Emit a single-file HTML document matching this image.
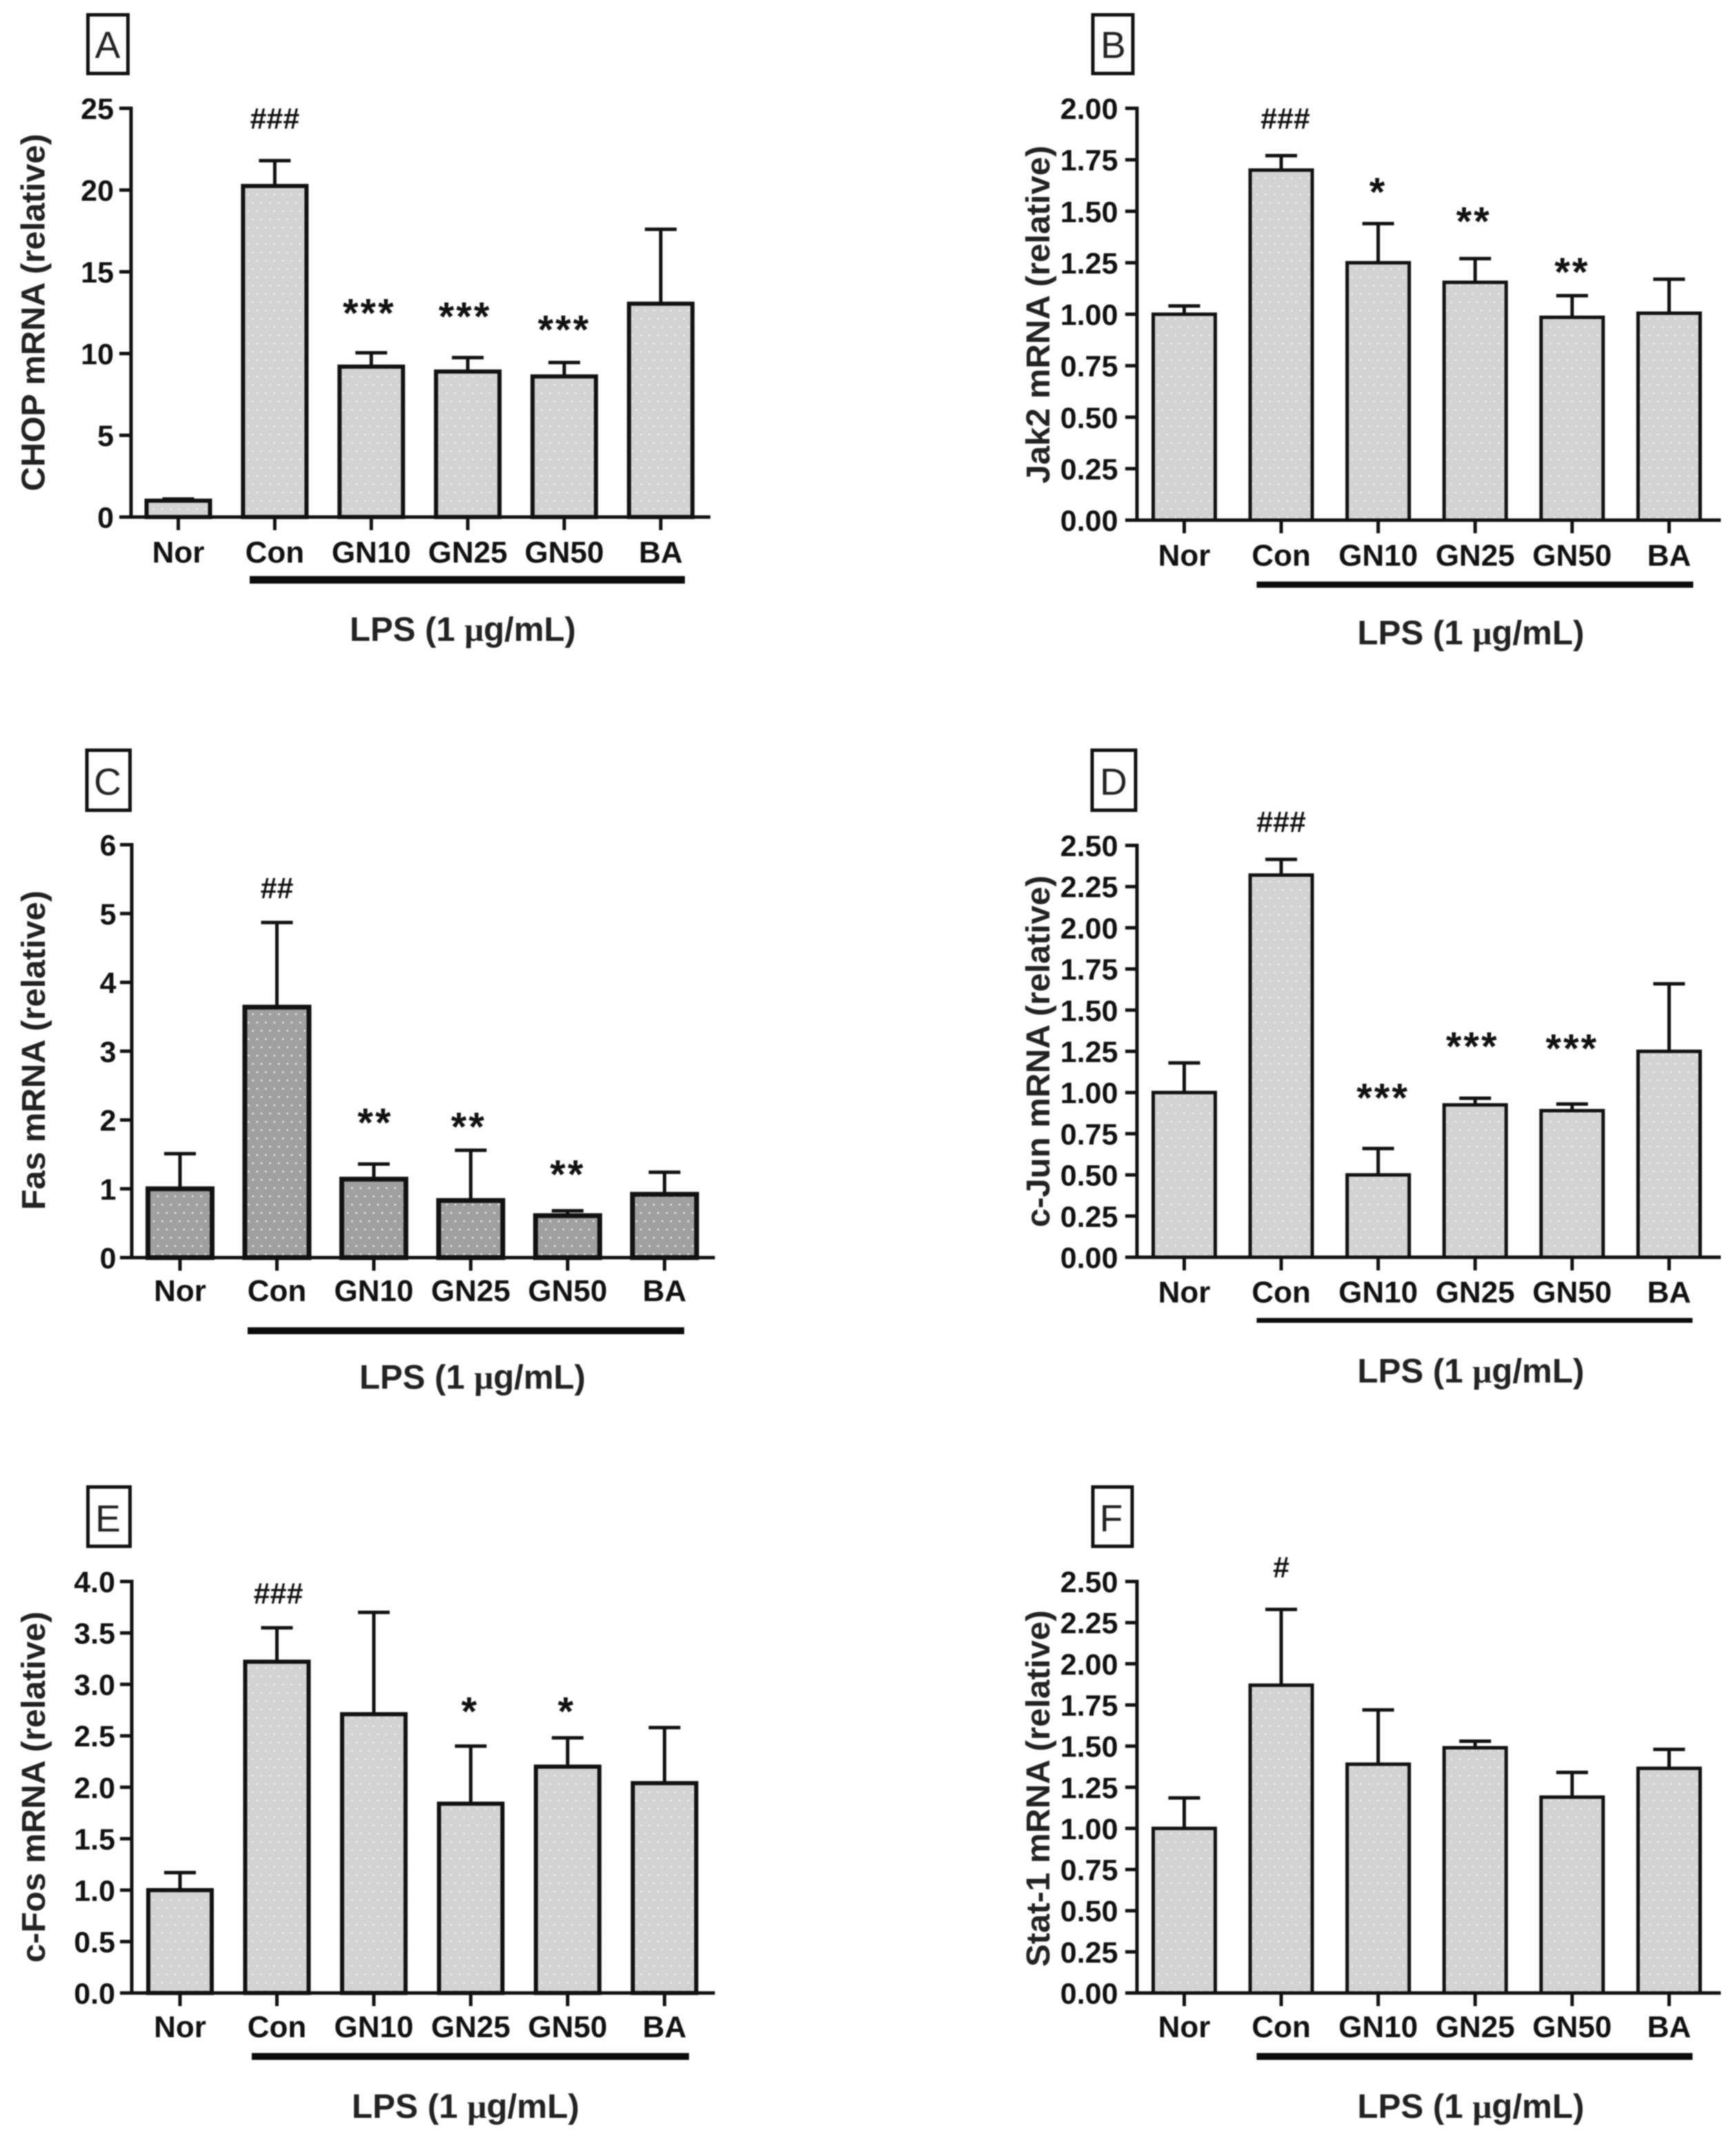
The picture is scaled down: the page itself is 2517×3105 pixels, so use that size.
<!DOCTYPE html>
<html lang="en">
<head>
<meta charset="utf-8">
<title>mRNA expression bar charts</title>
<style>
html,body{margin:0;padding:0;background:#fff;width:2517px;height:3105px;overflow:hidden}
svg{display:block;filter:blur(0.8px)}
text{font-family:"Liberation Sans",sans-serif;fill:#111}
.tick{font-size:43px;font-weight:700}
.xlabel{font-size:44px;font-weight:700}
.ytitle{font-size:48px;font-weight:700;fill:#222}
.lps{font-size:49px;font-weight:700;fill:#222}
.mu{font-family:"Liberation Serif",serif}
.letter{font-size:55px;fill:#222}
.box{fill:#fff;stroke:#111;stroke-width:5}
.hash{font-size:43px;font-weight:700}
.star{font-size:58px;font-weight:700;letter-spacing:3px}
</style>
</head>
<body>
<svg id="figure" xmlns="http://www.w3.org/2000/svg" width="2517" height="3105" viewBox="0 0 2517 3105">
<defs>
<pattern id="dots-light" patternUnits="userSpaceOnUse" width="12.5" height="24">
<rect width="12.5" height="24" fill="#d3d3d3"/>
<rect x="3" y="5" width="2.2" height="2.2" fill="#f2f2f2"/>
<rect x="9.2" y="17" width="2.2" height="2.2" fill="#f2f2f2"/>
</pattern>
<pattern id="dots-dark" patternUnits="userSpaceOnUse" width="12.5" height="24">
<rect width="12.5" height="24" fill="#a0a0a0"/>
<rect x="3" y="5" width="2.4" height="2.4" fill="#ececec"/>
<rect x="9.2" y="17" width="2.4" height="2.4" fill="#ececec"/>
</pattern>
</defs>
<rect width="2517" height="3105" fill="#fff"/>

<g id="panel-a">
<rect class="box" x="127.5" y="21.5" width="58" height="85"/>
<text class="letter" x="156" y="84" text-anchor="middle">A</text>
<text class="ytitle" transform="translate(64.5,712) rotate(-90)" textLength="518" lengthAdjust="spacingAndGlyphs">CHOP mRNA (relative)</text>
<rect x="362" y="835" width="631" height="11" fill="#0c0c0c"/>
<text class="lps" x="507" y="929" textLength="328" lengthAdjust="spacingAndGlyphs">LPS (1 <tspan class="mu">μ</tspan>g/mL)</text>
</g>

<g id="panel-b">
<rect class="box" x="1584.5" y="21.5" width="58" height="85"/>
<text class="letter" x="1614" y="84" text-anchor="middle">B</text>
<text class="ytitle" transform="translate(1521.5,701) rotate(-90)" textLength="490" lengthAdjust="spacingAndGlyphs">Jak2 mRNA (relative)</text>
<rect x="1822" y="843" width="633" height="9" fill="#0c0c0c"/>
<text class="lps" x="1968" y="934" textLength="329" lengthAdjust="spacingAndGlyphs">LPS (1 <tspan class="mu">μ</tspan>g/mL)</text>
</g>

<g id="panel-c">
<rect class="box" x="126" y="1087.5" width="62.5" height="87"/>
<text class="letter" x="156" y="1152" text-anchor="middle">C</text>
<text class="ytitle" transform="translate(65,1754) rotate(-90)" textLength="463" lengthAdjust="spacingAndGlyphs">Fas mRNA (relative)</text>
<rect x="359" y="1924" width="633" height="10" fill="#0c0c0c"/>
<text class="lps" x="521" y="2013" textLength="328" lengthAdjust="spacingAndGlyphs">LPS (1 <tspan class="mu">μ</tspan>g/mL)</text>
</g>

<g id="panel-d">
<rect class="box" x="1583.5" y="1087.5" width="63" height="87"/>
<text class="letter" x="1614.5" y="1152" text-anchor="middle">D</text>
<text class="ytitle" transform="translate(1521.5,1779) rotate(-90)" textLength="510" lengthAdjust="spacingAndGlyphs">c-Jun mRNA (relative)</text>
<rect x="1822" y="1910.5" width="632" height="7" fill="#0c0c0c"/>
<text class="lps" x="1968" y="2004" textLength="329" lengthAdjust="spacingAndGlyphs">LPS (1 <tspan class="mu">μ</tspan>g/mL)</text>
</g>

<g id="panel-e">
<rect class="box" x="127.5" y="2155.5" width="61" height="86"/>
<text class="letter" x="156.5" y="2220" text-anchor="middle">E</text>
<text class="ytitle" transform="translate(65,2845) rotate(-90)" textLength="509" lengthAdjust="spacingAndGlyphs">c-Fos mRNA (relative)</text>
<rect x="365" y="2976" width="634" height="10" fill="#0c0c0c"/>
<text class="lps" x="510" y="3070" textLength="330" lengthAdjust="spacingAndGlyphs">LPS (1 <tspan class="mu">μ</tspan>g/mL)</text>
</g>

<g id="panel-f">
<rect class="box" x="1584.5" y="2155.5" width="57" height="86"/>
<text class="letter" x="1611" y="2220" text-anchor="middle">F</text>
<text class="ytitle" transform="translate(1521.5,2851) rotate(-90)" textLength="517" lengthAdjust="spacingAndGlyphs">Stat-1 mRNA (relative)</text>
<rect x="1822" y="2976" width="632" height="10" fill="#0c0c0c"/>
<text class="lps" x="1968" y="3070" textLength="329" lengthAdjust="spacingAndGlyphs">LPS (1 <tspan class="mu">μ</tspan>g/mL)</text>
</g>
</svg>

<script>
var categories = ["Nor", "Con", "GN10", "GN25", "GN50", "BA"];

var chopTicks = ["0", "5", "10", "15", "20", "25"];
var chopValues = [1.0, 20.25, 9.2, 8.9, 8.6, 13.05];
var chopErrorTops = [1.1, 21.8, 10.05, 9.75, 9.45, 17.6];
var chopSigLabels = ["", "###", "***", "***", "***", ""];
var chopSigLevels = [0, 24.4, 12.8, 12.6, 11.8, 0];

var jak2Ticks = ["0.00", "0.25", "0.50", "0.75", "1.00", "1.25", "1.50", "1.75", "2.00"];
var jak2Values = [1.0, 1.70, 1.25, 1.155, 0.985, 1.005];
var jak2ErrorTops = [1.04, 1.77, 1.44, 1.27, 1.09, 1.17];
var jak2SigLabels = ["", "###", "*", "**", "**", ""];
var jak2SigLevels = [0, 1.953, 1.62, 1.478, 1.231, 0];

var fasTicks = ["0", "1", "2", "3", "4", "5", "6"];
var fasValues = [1.0, 3.64, 1.14, 0.83, 0.61, 0.92];
var fasErrorTops = [1.51, 4.87, 1.36, 1.56, 0.68, 1.24];
var fasSigLabels = ["", "##", "**", "**", "**", ""];
var fasSigLevels = [0, 5.38, 2.04, 1.98, 1.29, 0];

var junTicks = ["0.00", "0.25", "0.50", "0.75", "1.00", "1.25", "1.50", "1.75", "2.00", "2.25", "2.50"];
var junValues = [1.0, 2.32, 0.50, 0.925, 0.89, 1.25];
var junErrorTops = [1.18, 2.415, 0.66, 0.965, 0.93, 1.66];
var junSigLabels = ["", "###", "***", "***", "***", ""];
var junSigLevels = [0, 2.646, 1.0, 1.3125, 1.30, 0];

var fosTicks = ["0.0", "0.5", "1.0", "1.5", "2.0", "2.5", "3.0", "3.5", "4.0"];
var fosValues = [1.0, 3.22, 2.71, 1.84, 2.20, 2.04];
var fosErrorTops = [1.17, 3.55, 3.70, 2.40, 2.48, 2.58];
var fosSigLabels = ["", "###", "", "*", "*", ""];
var fosSigLevels = [0, 3.89, 0, 2.79, 2.79, 0];

var statTicks = ["0.00", "0.25", "0.50", "0.75", "1.00", "1.25", "1.50", "1.75", "2.00", "2.25", "2.50"];
var statValues = [1.0, 1.87, 1.39, 1.49, 1.19, 1.365];
var statErrorTops = [1.185, 2.33, 1.72, 1.53, 1.34, 1.48];
var statSigLabels = ["", "#", "", "", "", ""];
var statSigLevels = [0, 2.59, 0, 0, 0, 0];

var NS = "http://www.w3.org/2000/svg";

function make(parent, tag, geometry, text) {
  var el = document.createElementNS(NS, tag);
  for (var key in geometry) {
    el.setAttribute(key, geometry[key]);
  }
  if (text !== undefined) {
    el.textContent = text;
  }
  parent.appendChild(el);
  return el;
}

function drawPanel(cfg) {
  var group = document.getElementById(cfg.id);
  var maxTick = parseFloat(cfg.ticks[cfg.ticks.length - 1]);
  function yScale(v) {
    return cfg.bottom - (v / maxTick) * (cfg.bottom - cfg.top);
  }
  function xScale(i) {
    return cfg.x0 + i * cfg.step;
  }
  var ink = "#111";
  var fill = cfg.dark ? "url(#dots-dark)" : "url(#dots-light)";
  var barWidth = cfg.outer - cfg.edge;

  categories.forEach(function (cat, i) {
    var cx = xScale(i);
    var err = make(group, "line", { x1: cx, x2: cx, y1: yScale(cfg.values[i]), y2: yScale(cfg.errorTops[i]), stroke: ink, "stroke-width": 5 });
    
    
    var cap = make(group, "line", { x1: cx - 23, x2: cx + 23, y1: yScale(cfg.errorTops[i]), y2: yScale(cfg.errorTops[i]), stroke: ink, "stroke-width": 5 });
    
    
    var bar = make(group, "rect", { x: cx - barWidth / 2, y: yScale(cfg.values[i]), width: barWidth, height: yScale(0) - yScale(cfg.values[i]), fill: fill, stroke: ink, "stroke-width": cfg.edge });
    
    
    var xTick = make(group, "line", { x1: cx, x2: cx, y1: cfg.bottom, y2: cfg.bottom + 19, stroke: ink, "stroke-width": 5 });
    
    
    var xLabel = make(group, "text", { "class": "xlabel", x: cx, y: cfg.bottom + cfg.labelOffset, "text-anchor": "middle" }, cat);
    
    
    if (cfg.sigLabels[i]) {
      var isStar = cfg.sigLabels[i].charAt(0) === "*";
      var sigY = yScale(cfg.sigLevels[i]) + (isStar ? 28 : 15.5);
      var sig = make(group, "text", { "class": isStar ? "star" : "hash", x: cx + cfg.sigNudge[i], y: sigY, "text-anchor": "middle" }, cfg.sigLabels[i]);
      
      
    }
  });

  cfg.ticks.forEach(function (label) {
    var y = yScale(parseFloat(label));
    var yTick = make(group, "line", { x1: cfg.axisX - 17, x2: cfg.axisX, y1: y, y2: y, stroke: ink, "stroke-width": 5 });
    
    
    var yLabel = make(group, "text", { "class": "tick", x: cfg.axisX - cfg.labelGap, y: y + 15.5, "text-anchor": "end" }, label);
    
    
  });

  var yAxis = make(group, "line", { x1: cfg.axisX, x2: cfg.axisX, y1: cfg.top - 2.5, y2: cfg.bottom + 2.5, stroke: ink, "stroke-width": 5 });
  
  
  var xAxis = make(group, "line", { x1: cfg.axisX - 17, x2: cfg.axisEnd, y1: cfg.bottom, y2: cfg.bottom, stroke: ink, "stroke-width": 5 });
  
  
}

drawPanel({ id: "panel-a", ticks: chopTicks, values: chopValues, errorTops: chopErrorTops, sigLabels: chopSigLabels, sigLevels: chopSigLevels, sigNudge: [0, 0, -3, -4, 0, 0], axisX: 190, axisEnd: 1030, top: 157, bottom: 749.5, x0: 258.5, step: 139.9, labelGap: 25, labelOffset: 66, outer: 98, edge: 6 });
drawPanel({ id: "panel-b", ticks: jak2Ticks, values: jak2Values, errorTops: jak2ErrorTops, sigLabels: jak2SigLabels, sigLevels: jak2SigLevels, sigNudge: [0, 6, 0, -2, 0, 0], axisX: 1648.5, axisEnd: 2495, top: 157, bottom: 754, x0: 1717, step: 140.6, labelGap: 27.5, labelOffset: 66, outer: 95, edge: 5 });
drawPanel({ id: "panel-c", dark: true, ticks: fasTicks, values: fasValues, errorTops: fasErrorTops, sigLabels: fasSigLabels, sigLevels: fasSigLevels, sigNudge: [0, 0, 2, -3, 0, 0], axisX: 191, axisEnd: 1036.5, top: 1224.5, bottom: 1823, x0: 261, step: 140.5, labelGap: 22.5, labelOffset: 63, outer: 100, edge: 7 });
drawPanel({ id: "panel-d", ticks: junTicks, values: junValues, errorTops: junErrorTops, sigLabels: junSigLabels, sigLevels: junSigLevels, sigNudge: [0, 0, 7, -4, 0, 0], axisX: 1648.5, axisEnd: 2495, top: 1225.5, bottom: 1822.5, x0: 1717, step: 140.6, labelGap: 27.5, labelOffset: 65.5, outer: 95, edge: 5 });
drawPanel({ id: "panel-e", ticks: fosTicks, values: fosValues, errorTops: fosErrorTops, sigLabels: fosSigLabels, sigLevels: fosSigLevels, sigNudge: [0, 2, 0, -1, -1.5, 0], axisX: 191, axisEnd: 1036.5, top: 2292.5, bottom: 2889, x0: 261, step: 140.5, labelGap: 24, labelOffset: 64, outer: 98, edge: 6 });
drawPanel({ id: "panel-f", ticks: statTicks, values: statValues, errorTops: statErrorTops, sigLabels: statSigLabels, sigLevels: statSigLevels, sigNudge: [0, 0, 0, 0, 0, 0], axisX: 1648.5, axisEnd: 2495, top: 2292.5, bottom: 2889, x0: 1717, step: 140.6, labelGap: 27.5, labelOffset: 64, outer: 95, edge: 5 });
</script>
</body>
</html>
